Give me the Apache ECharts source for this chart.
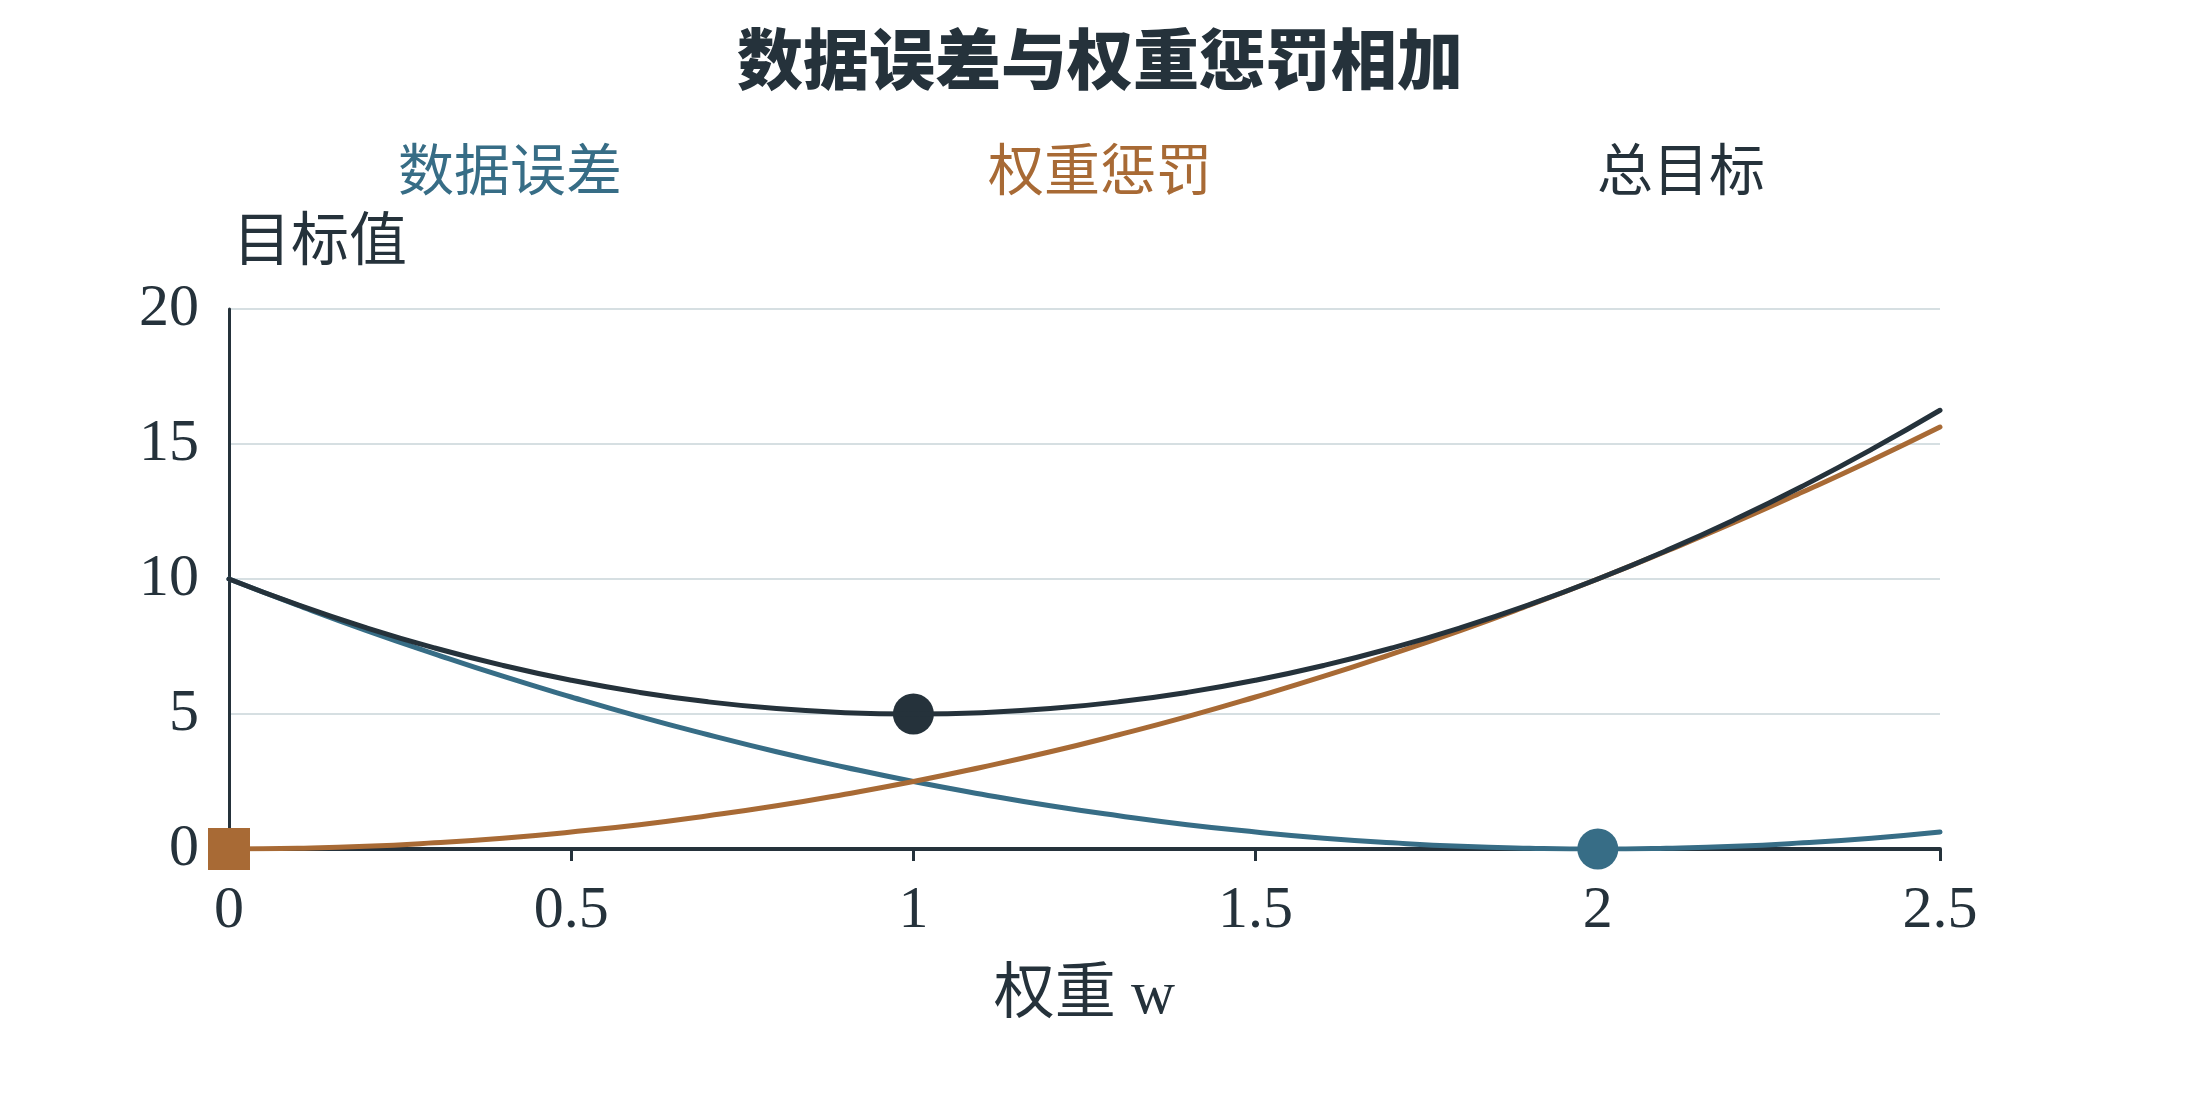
<!DOCTYPE html>
<html>
<head>
<meta charset="utf-8">
<script src="https://cdn.jsdelivr.net/npm/echarts@6/dist/echarts.min.js"></script>
<style>
html,body{margin:0;padding:0;background:#fff;}
#chart{width:2200px;height:1110px;}
</style>
</head>
<body>
<div id="chart"></div>
<script>
// ---- data ----
const titleText = '数据误差与权重惩罚相加';
const seriesNames = ['数据误差', '权重惩罚', '总目标'];
const xAxisName = '权重 w';
const yAxisName = '目标值';
const weights = [0, 0.1, 0.2, 0.3, 0.4, 0.5, 0.6, 0.7, 0.8, 0.9, 1.0, 1.1, 1.2, 1.3, 1.4, 1.5, 1.6, 1.7, 1.8, 1.9, 2.0, 2.1, 2.2, 2.3, 2.4, 2.5];
const dataError = [10, 9.03, 8.1, 7.23, 6.4, 5.63, 4.9, 4.23, 3.6, 3.03, 2.5, 2.03, 1.6, 1.23, 0.9, 0.63, 0.4, 0.23, 0.1, 0.03, 0, 0.03, 0.1, 0.23, 0.4, 0.63];
const penalty = [0, 0.03, 0.1, 0.23, 0.4, 0.63, 0.9, 1.23, 1.6, 2.03, 2.5, 3.03, 3.6, 4.23, 4.9, 5.63, 6.4, 7.23, 8.1, 9.03, 10, 11.03, 12.1, 13.23, 14.4, 15.63];
const total = [10, 9.05, 8.2, 7.45, 6.8, 6.25, 5.8, 5.45, 5.2, 5.05, 5, 5.05, 5.2, 5.45, 5.8, 6.25, 6.8, 7.45, 8.2, 9.05, 10, 11.05, 12.2, 13.45, 14.8, 16.25];
const xTicks = [0, 0.5, 1, 1.5, 2, 2.5];
const yTicks = [0, 5, 10, 15, 20];
// highlighted points [w, value]
const penaltyMin = [0, 0];
const totalMin = [1, 5];
const errorMin = [2, 0];

// ---- styling ----
const C_BLUE = '#376d86';
const C_ORANGE = '#a86a35';
const C_DARK = '#25323b';
const C_GRID = '#d6dfe2';
const NUM_FONT = "'Liberation Serif', 'Noto Sans CJK SC', serif";
const CJK_FONT = "'Noto Sans CJK SC', sans-serif";

function pairs(ys) { return weights.map((w, i) => [w, ys[i]]); }

const chart = echarts.init(document.getElementById('chart'), null, {renderer: 'canvas'});

function legendAt(name, color, left) {
  return {
    data: [name],
    left: left,
    top: 136,
    itemWidth: 0,
    itemHeight: 0,
    itemGap: 0,
    icon: 'rect',
    selectedMode: false,
    textStyle: {color: color, fontSize: 56, fontFamily: CJK_FONT, padding: [0, 0, 0, -5]}
  };
}

const option = {
  animation: false,
  backgroundColor: '#ffffff',
  title: {
    text: titleText,
    left: 'center',
    top: 21,
    textStyle: {fontSize: 66, fontWeight: 900, color: C_DARK, fontFamily: CJK_FONT}
  },
  legend: [
    legendAt(seriesNames[0], C_BLUE, 393),
    legendAt(seriesNames[1], C_ORANGE, 983),
    legendAt(seriesNames[2], C_DARK, 1592)
  ],
  grid: {left: 229, right: 260, top: 309, bottom: 261, containLabel: false, outerBoundsMode: 'none'},
  xAxis: {
    type: 'value',
    min: xTicks[0],
    max: xTicks[xTicks.length - 1],
    interval: 0.5,
    name: xAxisName,
    nameLocation: 'middle',
    nameGap: 117,
    nameTextStyle: {fontSize: 61, color: C_DARK, fontFamily: NUM_FONT},
    axisLine: {show: true, onZero: false, lineStyle: {color: C_DARK, width: 4}},
    axisTick: {show: true, length: 12, lineStyle: {color: C_DARK, width: 3}},
    axisLabel: {fontSize: 60, color: C_DARK, fontFamily: NUM_FONT, margin: 32,
      formatter: v => String(v)},
    splitLine: {show: false}
  },
  yAxis: {
    type: 'value',
    min: yTicks[0],
    max: yTicks[yTicks.length - 1],
    interval: 5,
    name: yAxisName,
    nameLocation: 'end',
    nameGap: 42,
    nameTextStyle: {fontSize: 58, color: C_DARK, fontFamily: CJK_FONT, align: 'left', padding: [0, 0, 0, 4]},
    axisLine: {show: true, lineStyle: {color: C_DARK, width: 3}},
    axisTick: {show: false},
    axisLabel: {fontSize: 60, color: C_DARK, fontFamily: NUM_FONT, margin: 30},
    splitLine: {show: true, lineStyle: {color: C_GRID, width: 2}}
  },
  series: [
    {
      name: seriesNames[0], type: 'line', data: pairs(dataError), smooth: true,
      showSymbol: false, symbol: 'none', color: C_BLUE,
      lineStyle: {width: 5, color: C_BLUE, cap: 'round'}, z: 3,
      markPoint: {symbol: 'circle', symbolSize: 41, label: {show: false},
        itemStyle: {color: C_BLUE}, data: [{coord: errorMin}]}
    },
    {
      name: seriesNames[1], type: 'line', data: pairs(penalty), smooth: true,
      showSymbol: false, symbol: 'none', color: C_ORANGE,
      lineStyle: {width: 5, color: C_ORANGE, cap: 'round'}, z: 4,
      markPoint: {symbol: 'rect', symbolSize: 42, label: {show: false},
        itemStyle: {color: C_ORANGE}, data: [{coord: penaltyMin}]}
    },
    {
      name: seriesNames[2], type: 'line', data: pairs(total), smooth: true,
      showSymbol: false, symbol: 'none', color: C_DARK,
      lineStyle: {width: 5, color: C_DARK, cap: 'round'}, z: 5,
      markPoint: {symbol: 'circle', symbolSize: 41, label: {show: false},
        itemStyle: {color: C_DARK}, data: [{coord: totalMin}]}
    }
  ]
};
chart.setOption(option);
</script>
</body>
</html>
